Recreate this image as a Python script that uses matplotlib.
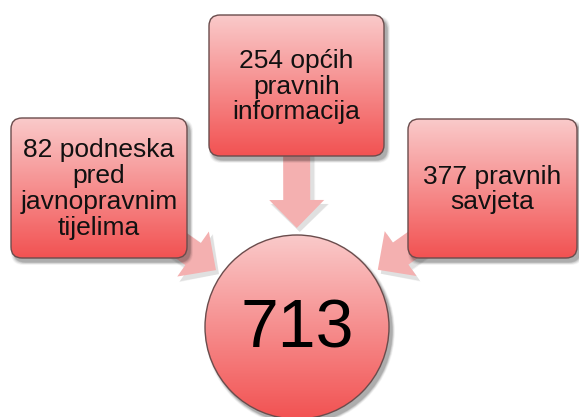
import numpy as np
import matplotlib
matplotlib.use("Agg")
import matplotlib.pyplot as plt
import matplotlib.patches as mpatches

# data
labels = ["82 podneska\npred\njavnopravnim\ntijelima",
          "254 općih\npravnih\ninformacija",
          "377 pravnih\nsavjeta"]
counts = [82, 254, 377]
total = sum(counts)  # 713

plt.rcParams['font.family'] = ['Liberation Sans', 'DejaVu Sans']

fig = plt.figure(figsize=(5.79, 4.17), dpi=100)
ax = fig.add_axes([0, 0, 1, 1])
ax.set_xlim(0, 579)
ax.set_ylim(417, 0)
ax.axis('off')

top_col = np.array([250, 202, 202]) / 255
bot_col = np.array([242, 82, 82]) / 255
grad = np.linspace(0, 1, 256)[:, None, None] * (bot_col - top_col) + top_col


def shadow(make_patch):
    for k, a in zip(range(6, 0, -1), [0.03, 0.04, 0.05, 0.06, 0.08, 0.1]):
        p = make_patch(k)
        p.set_facecolor('black')
        p.set_alpha(a)
        p.set_edgecolor('none')
        p.set_zorder(2)
        ax.add_patch(p)


def grad_box(x0, y0, x1, y1, text):
    shadow(lambda k: mpatches.FancyBboxPatch((x0 + 3 - k / 2, y0 + 4 - k / 2), x1 - x0 + k, y1 - y0 + k,
                                              boxstyle="round,pad=0,rounding_size=12"))
    patch = mpatches.FancyBboxPatch((x0, y0), x1 - x0, y1 - y0,
                                    boxstyle="round,pad=0,rounding_size=11",
                                    facecolor='none', edgecolor='#6a4c4c', lw=1.0, zorder=4)
    ax.add_patch(patch)
    im = ax.imshow(grad, extent=(x0, x1, y1, y0), origin='upper', aspect='auto', zorder=3)
    im.set_clip_path(patch)
    ax.text((x0 + x1) / 2, (y0 + y1) / 2 + 1, text, ha='center', va='center',
            fontsize=19, linespacing=1.1, color='#111111', zorder=5)


# circle geometry
cx, cy, r = 297, 327, 92

boxes = [(11, 118, 187, 258), (209, 15, 384, 156), (408, 119, 577, 258)]

# arrows from each box towards the circle
for (x0, y0, x1, y1) in boxes:
    bx, by = (x0 + x1) / 2, (y0 + y1) / 2
    d = np.array([cx - bx, cy - by])
    L = np.hypot(*d)
    u = d / L
    end = L - r - 7
    for k, a in [(4, 0.05), (2, 0.07)]:
        ax.add_patch(mpatches.FancyArrow(bx + 3, by + 4, u[0] * end, u[1] * end, width=27 + k,
                                         head_width=55 + k, head_length=28,
                                         length_includes_head=True, color='black', alpha=a,
                                         lw=0, zorder=1))
    ax.add_patch(mpatches.FancyArrow(bx, by, u[0] * end, u[1] * end, width=27,
                                     head_width=55, head_length=28, length_includes_head=True,
                                     facecolor='#f4b0b0', edgecolor='none', zorder=1.5))

for b, t in zip(boxes, labels):
    grad_box(*b, t)

# centre circle
shadow(lambda k: mpatches.Circle((cx + 3, cy + 4), r + k / 2))
circ = mpatches.Circle((cx, cy), r, facecolor='none', edgecolor='#6a4c4c', lw=1.0, zorder=4)
ax.add_patch(circ)
im = ax.imshow(grad, extent=(cx - r, cx + r, cy + r, cy - r), origin='upper', aspect='auto', zorder=3)
im.set_clip_path(circ)
ax.text(cx, cy + 2, str(total), ha='center', va='center', fontsize=49, color='black', zorder=5)

ax.set_xlim(0, 579)
ax.set_ylim(417, 0)
fig.savefig("out.png", dpi=100)
